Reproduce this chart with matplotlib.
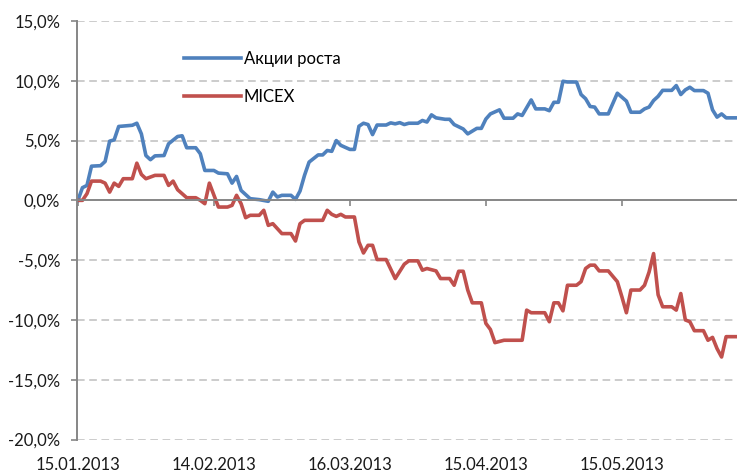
import matplotlib
matplotlib.use("Agg")
import matplotlib.pyplot as plt
import matplotlib.dates as mdates
import numpy as np
import datetime as dt

start = dt.date(2013, 1, 15)

# day offsets from 15.01.2013 and returns in %
growth_days = [0, 1, 2, 3, 5, 6, 7, 8, 9, 12, 13, 14, 15, 16, 17, 19, 20, 22, 23, 24, 26, 27, 28, 30,
               31, 33, 34, 35, 36, 38, 40, 42, 43, 44, 45, 47, 48, 49, 50, 51, 53, 54, 55, 56, 57, 58,
               60, 61, 62, 63, 64, 65, 66, 68, 69, 70, 71, 72, 73, 75, 76, 77, 78, 79, 81, 82, 83, 85,
               86, 88, 89, 90, 91, 93, 94, 96, 97, 98, 100, 101, 103, 104, 105, 106, 107, 108, 110,
               111, 112, 113, 114, 115, 117, 119, 121, 122, 124, 125, 126, 127, 128, 129, 131, 132,
               133, 134, 135, 136, 138, 139, 140, 141, 142, 143, 145]
growth_vals = [0.0, 1.06, 1.25, 2.86, 2.9, 3.25, 4.95, 5.06, 6.18, 6.28, 6.45, 5.56, 3.75, 3.4, 3.72,
               3.75, 4.73, 5.34, 5.4, 4.4, 4.4, 3.9, 2.5, 2.5, 2.28, 2.22, 1.44, 2.0, 0.83, 0.14, 0.06,
               -0.08, 0.69, 0.28, 0.42, 0.42, 0.08, 0.78, 2.1, 3.2, 3.8, 3.8, 4.17, 4.1, 5.0, 4.6,
               4.26, 4.26, 6.2, 6.45, 6.34, 5.5, 6.3, 6.3, 6.48, 6.4, 6.5, 6.34, 6.45, 6.45, 6.68,
               6.55, 7.15, 6.9, 6.78, 6.78, 6.34, 5.97, 5.56, 6.02, 6.02, 6.8, 7.23, 7.57, 6.87, 6.87,
               7.23, 7.1, 8.4, 7.65, 7.65, 7.5, 8.2, 8.2, 9.96, 9.9, 9.9, 8.85, 8.5, 7.85, 7.8, 7.23,
               7.23, 8.96, 8.3, 7.37, 7.37, 7.65, 7.8, 8.35, 8.7, 9.2, 9.2, 9.6, 8.85, 9.24, 9.46,
               9.18, 9.18, 8.96, 7.57, 6.96, 7.23, 6.9, 6.9]

micex_days = [0, 1, 2, 3, 5, 6, 7, 8, 9, 10, 12, 13, 14, 15, 17, 19, 20, 21, 22, 24, 26, 27, 28, 29,
              31, 33, 34, 35, 36, 37, 38, 40, 41, 42, 43, 45, 47, 48, 49, 50, 54, 55, 56, 57, 58, 59,
              61, 62, 63, 64, 65, 66, 68, 70, 72, 73, 75, 76, 77, 79, 80, 82, 83, 84, 85, 86, 87, 89,
              90, 91, 92, 93, 94, 98, 99, 100, 103, 104, 105, 106, 107, 108, 110, 111, 112, 113, 114,
              115, 117, 119, 120, 121, 122, 124, 125, 126, 127, 128, 129, 131, 132, 133, 134, 135,
              136, 138, 139, 140, 141, 142, 143, 145]
micex_vals = [0.0, 0.0, 0.56, 1.61, 1.61, 1.44, 0.69, 1.44, 1.17, 1.81, 1.81, 3.11, 2.17, 1.81, 2.09,
              2.09, 1.25, 1.61, 0.89, 0.22, 0.22, 0.0, -0.28, 1.44, -0.56, -0.56, -0.42, 0.42, -0.28,
              -1.45, -1.25, -1.25, -0.83, -2.09, -1.95, -2.78, -2.78, -3.4, -1.95, -1.67, -1.67,
              -0.83, -1.17, -1.34, -1.17, -1.39, -1.39, -3.48, -4.4, -3.76, -3.76, -4.95, -4.95,
              -6.54, -5.34, -5.06, -5.06, -5.84, -5.7, -5.9, -6.54, -6.54, -7.1, -5.93, -5.93, -7.5,
              -8.57, -8.57, -10.29, -10.8, -11.9, -11.8, -11.7, -11.7, -9.18, -9.4, -9.4, -10.15,
              -8.57, -8.57, -9.24, -7.1, -7.1, -6.8, -5.7, -5.42, -5.42, -5.9, -5.9, -6.8, -8.06,
              -9.4, -7.5, -7.5, -7.1, -6.0, -4.45, -7.9, -8.9, -8.9, -9.18, -7.79, -10.0, -10.15,
              -10.9, -10.9, -11.7, -11.46, -12.4, -13.1, -11.4, -11.4]

series_names = ["Акции роста", "MICEX"]
series_colors = ["#4F81BD", "#C0504D"]
y_ticks = [15, 10, 5, 0, -5, -10, -15, -20]
x_tick_dates = ["2013-01-15", "2013-02-14", "2013-03-16", "2013-04-15", "2013-05-15"]

FS = 12
plt.rcParams['font.family'] = ['Lato', 'DejaVu Sans']
plt.rcParams['xtick.labelsize'] = FS
plt.rcParams['ytick.labelsize'] = FS

fig = plt.figure(figsize=(7.37, 4.73), dpi=100)
ax = fig.add_axes([77/737, 1 - 439.5/473, 1 - 77/737, (439.5 - 21)/473])

def to_dates(days):
    return [np.datetime64(start) + np.timedelta64(int(d), 'D') for d in days]

ax.plot(to_dates(growth_days), growth_vals, color=series_colors[0], lw=2.6,
        label=series_names[0], solid_joinstyle='round')
ax.plot(to_dates(micex_days), micex_vals, color=series_colors[1], lw=2.6,
        label=series_names[1], solid_joinstyle='round')

x0 = np.datetime64(start)
ax.set_xlim(mdates.date2num(x0) - 0.2, mdates.date2num(x0) + 145.4)
ax.set_ylim(-20, 15)

for s in ["top", "right"]:
    ax.spines[s].set_visible(False)
ax.spines["bottom"].set_position(("data", 0))
ax.spines["bottom"].set_color("#868686")
ax.spines["bottom"].set_linewidth(1.4)
ax.spines["left"].set_color("#868686")
ax.spines["left"].set_linewidth(1.4)
ax.tick_params(axis="y", length=4, width=1.2, color="#868686", pad=8, labelsize=FS,
               labelcolor="#1a1a1a")
ax.tick_params(axis="x", length=4, width=1.2, color="#868686", pad=181, labelsize=FS,
               labelcolor="#1a1a1a")

ax.set_yticks(y_ticks)
ax.set_yticklabels([f"{v:.1f}%".replace(".", ",") for v in y_ticks])
for v in y_ticks:
    if v != 0:
        ax.axhline(v, color="#BFBFBF", lw=1.1, ls=(0, (5, 3)), zorder=0)

xt = [mdates.date2num(np.datetime64(d)) for d in x_tick_dates]
ax.set_xticks(xt)
ax.set_xticklabels([dt.date.fromisoformat(d).strftime("%d.%m.%Y") for d in x_tick_dates])
for lbl in ax.get_xticklabels():
    lbl.set_fontsize(FS)

leg = ax.legend(loc="upper left", bbox_to_anchor=(0.14, 0.965), frameon=False,
                fontsize=FS, handlelength=3.4, handletextpad=0.15, labelspacing=1.35)

fig.savefig("out.png", dpi=100)
